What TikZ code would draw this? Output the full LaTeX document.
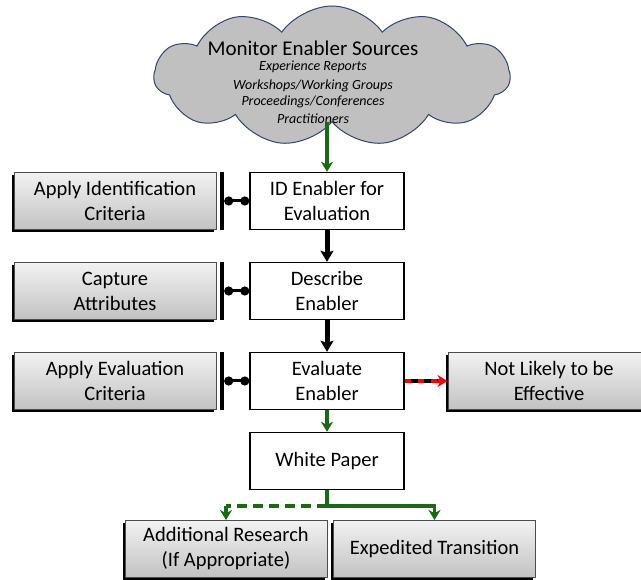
\documentclass[tikz,border=0pt]{standalone}
\usepackage{fontspec}
\setmainfont{Carlito}
\usetikzlibrary{shapes.symbols,arrows.meta,shadows}
\definecolor{dgreen}{RGB}{25,105,25}
\definecolor{cloudgray}{RGB}{192,192,192}
\definecolor{cloudedge}{RGB}{50,70,110}
\begin{document}
\begin{tikzpicture}[x=1pt,y=-1pt,
  boxfont/.style={font=\fontsize{20.5}{25}\selectfont},
  whitebox/.style={draw=black, line width=1.4pt, fill=white, minimum width=154pt,
    minimum height=57pt, align=center, inner sep=0pt, boxfont},
  graybox/.style={draw=black!70, line width=0.9pt, top color=black!5, bottom color=black!24,
    minimum width=202pt, minimum height=57pt, align=center, inner sep=0pt, boxfont,
    general shadow={fill=black, shadow xshift=-2.5pt, shadow yshift=-2.5pt}},
  barnode/.style={fill=black, inner sep=0pt, minimum width=4pt, minimum height=58pt},
  dotconn/.style={line width=3pt, {Circle[length=9pt,width=9pt]}-{Circle[length=9pt,width=9pt]}},
  blackarrow/.style={line width=5pt, -{Stealth[length=11pt,width=13pt,inset=2pt]}},
  greenarrow/.style={dgreen, line width=3.4pt, -{Stealth[length=10pt,width=12pt,inset=3pt]}},
  greenline/.style={dgreen, line width=3.4pt},
  greendash/.style={dgreen, line width=3.4pt, dash pattern=on 10pt off 6pt},
  cloudtitle/.style={font=\fontsize{21}{24}\selectfont, inner sep=0pt},
  cloudline/.style={font=\fontsize{14}{16}\itshape, inner sep=0pt}
]
\useasboundingbox (0,0) rectangle (641,580);
\clip (0,0) rectangle (641,580);

% cloud
\node[cloud, cloud puffs=11, cloud puff arc=110, aspect=2.6, draw=cloudedge, line width=1pt,
  fill=cloudgray, minimum width=356pt, minimum height=140pt, inner sep=0pt] (cloud) at (332,76) {};
\node[cloudtitle] (t0) at (313,48) {Monitor Enabler Sources};
\node[cloudline] (t1) at (313,67) {Experience Reports};
\node[cloudline] (t2) at (313,86) {Workshops/Working Groups};
\node[cloudline] (t3) at (313,102) {Proceedings/Conferences};
\node[cloudline] (t4) at (313,119) {Practitioners};

% main column
\node[whitebox] (id) at (327,201) {ID Enabler for\\Evaluation};
\node[whitebox] (desc) at (327,291) {Describe\\Enabler};
\node[whitebox] (eval) at (327,381) {Evaluate\\Enabler};
\node[whitebox] (wp) at (327,461) {White Paper};

% left column
\node[graybox] (aic) at (115,201) {Apply Identification\\Criteria};
\node[graybox] (ca) at (115,291) {Capture\\Attributes};
\node[graybox] (aec) at (115,381) {Apply Evaluation\\Criteria};

% right
\node[graybox] (nl) at (549,381) {Not Likely to be\\Effective};

% bottom
\node[graybox] (ar) at (226,549) {Additional Research\\(If Appropriate)};
\node[graybox] (et) at (434.5,549) {Expedited Transition};

% bars
\node[barnode] (b1) at (222,201) {};
\node[barnode] (b2) at (222,291) {};
\node[barnode] (b3) at (222,381) {};

% connectors
\draw[greenarrow] (id.north |- cloud.south) -- (id.north);
\draw[blackarrow] (id.south) -- (desc.north);
\draw[blackarrow] (desc.south) -- (eval.north);
\draw[greenarrow] (eval.south) -- (wp.north);

\draw[dotconn] (b1.east) -- (id.west);
\draw[dotconn] (b2.east) -- (desc.west);
\draw[dotconn] (b3.east) -- (eval.west);

\draw[red, line width=3.4pt, -{Stealth[length=10pt,width=12pt,inset=3pt]}] (eval.east) -- (nl.west);
\draw[black, line width=3.4pt, dash pattern=on 7pt off 6pt, dash phase=-6pt, shorten >=10pt] (eval.east) -- (nl.west);

\coordinate (br) at (327,506);
\draw[greenline] (wp.south) -- (br);
\draw[greendash] (br) -- (br -| ar.north);
\draw[greenarrow] (br -| ar.north) -- (ar.north);
\draw[greenarrow] (br) -| (et.north);
\end{tikzpicture}
\end{document}
